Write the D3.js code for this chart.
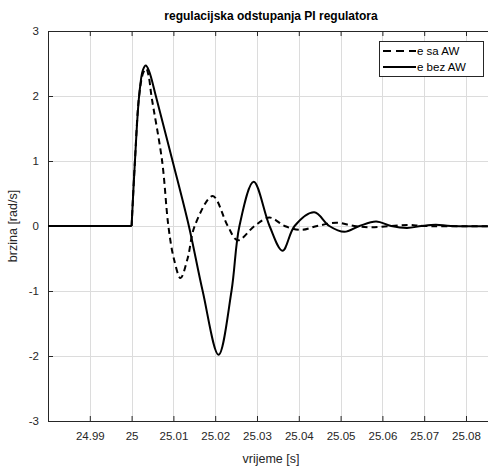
<!DOCTYPE html>
<html>
<head>
<meta charset="utf-8">
<script src="https://cdn.jsdelivr.net/npm/d3@7"></script>
<style>
  body { margin: 0; background: #fff; }
  svg { display: block; font-family: "Liberation Sans", Arial, sans-serif; }
</style>
</head>
<body>
<div id="chart"></div>
<script>
// DATA
const xTicks = [24.99, 25, 25.01, 25.02, 25.03, 25.04, 25.05, 25.06, 25.07, 25.08];
const yTicks = [-3, -2, -1, 0, 1, 2, 3];

// e bez AW (solid)
const tBez = [24.98, 25.0, 25.0008, 25.0018, 25.0027, 25.0034, 25.0042, 25.0058, 25.0098, 25.0137, 25.0170, 25.0208,
              25.0239, 25.0258, 25.0292, 25.0330, 25.0361, 25.0390, 25.0437, 25.0473, 25.0509,
              25.0545, 25.0585, 25.0621, 25.0659, 25.0693, 25.0728, 25.0764, 25.09];
const eBez = [0, 0, 1.0, 2.0, 2.4, 2.47, 2.38, 2.0, 1.0, 0, -1.0, -1.98,
              -1.0, 0, 0.68, 0, -0.38, 0, 0.21, 0, -0.09,
              0, 0.07, 0, -0.03, 0, 0.02, 0, 0];

// e sa AW (dashed)
const tSa = [24.98, 25.0, 25.0008, 25.0018, 25.0028, 25.0035, 25.0041, 25.00475, 25.0073, 25.0088, 25.0101, 25.0117,
             25.0134, 25.0151, 25.0194, 25.0230, 25.0254, 25.0294, 25.0330, 25.0366, 25.0406,
             25.0444, 25.0490, 25.0533, 25.0573, 25.0621, 25.0664, 25.0700, 25.09];
const eSa = [0, 0, 1.0, 2.0, 2.36, 2.42, 2.3, 2.0, 1.0, 0, -0.5, -0.8,
             -0.5, 0, 0.46, 0, -0.22, 0, 0.13, 0, -0.06,
             0, 0.05, 0, -0.02, 0, 0.015, 0, 0];

const series = [
  { name: "e sa AW", t: tSa, v: eSa, dash: "6,4" },
  { name: "e bez AW", t: tBez, v: eBez, dash: null }
];

// LAYOUT
const width = 488, height = 466;
const margin = { top: 31, left: 48, right: -6, bottom: 45 };
const plotW = width - margin.left - margin.right;
const plotH = height - margin.top - margin.bottom;
const textColor = "#262626";

const svg = d3.select("#chart").append("svg")
  .attr("width", width)
  .attr("height", height);

const x = d3.scaleLinear().domain([24.98, 25.0867]).range([margin.left, margin.left + plotW]);
const y = d3.scaleLinear().domain([-3, 3]).range([margin.top + plotH, margin.top]);

// GRID
const grid = svg.append("g").attr("stroke", "#dcdcdc").attr("stroke-width", 1);
xTicks.forEach(t => {
  grid.append("line")
    .attr("x1", Math.round(x(t)) + 0.5).attr("x2", Math.round(x(t)) + 0.5)
    .attr("y1", y(3)).attr("y2", y(-3));
});
yTicks.forEach(t => {
  grid.append("line")
    .attr("x1", x.range()[0]).attr("x2", x.range()[1])
    .attr("y1", Math.round(y(t)) + 0.5).attr("y2", Math.round(y(t)) + 0.5);
});

// AXES (matlab style: ticks inside, box)
const xAxisB = d3.axisBottom(x).tickValues(xTicks).tickSizeInner(-5).tickSizeOuter(0).tickPadding(11)
  .tickFormat(d => String(+d.toFixed(2)));
const xAxisT = d3.axisTop(x).tickValues(xTicks).tickSizeInner(-5).tickSizeOuter(0).tickFormat("");
const yAxisL = d3.axisLeft(y).tickValues(yTicks).tickSizeInner(-5).tickSizeOuter(0).tickPadding(9)
  .tickFormat(d => String(d));

function styleAxis(g) {
  g.selectAll("path").attr("stroke", textColor).attr("stroke-width", 1);
  g.selectAll("line").attr("stroke", textColor);
  g.selectAll("text").attr("fill", textColor).style("font-size", "11.5px");
}

svg.append("g").attr("transform", `translate(0,${margin.top + plotH})`).call(xAxisB).call(styleAxis);
svg.append("g").attr("transform", `translate(0,${margin.top})`).call(xAxisT).call(styleAxis);
svg.append("g").attr("transform", `translate(${margin.left},0)`).call(yAxisL).call(styleAxis);

// CURVES: flat part straight, oscillation smooth
const flat = d3.line();
const smooth = d3.line().curve(d3.curveCatmullRom.alpha(0.5));
series.forEach(s => {
  const pts = s.t.map((t, i) => [x(t), y(s.v[i])]);
  svg.append("path")
    .attr("fill", "none")
    .attr("stroke", "#000")
    .attr("stroke-width", 2)
    .attr("d", flat(pts.slice(0, 2)));
  svg.append("path")
    .attr("fill", "none")
    .attr("stroke", "#000")
    .attr("stroke-width", 2)
    .attr("stroke-dasharray", s.dash)
    .attr("d", smooth(pts.slice(1)));
});

// TITLE AND LABELS
svg.append("text")
  .attr("x", 271).attr("y", 20)
  .attr("text-anchor", "middle")
  .attr("font-weight", "bold")
  .style("font-size", "12px")
  .attr("fill", "#000")
  .text("regulacijska odstupanja PI regulatora");

svg.append("text")
  .attr("x", 271).attr("y", 463)
  .attr("text-anchor", "middle")
  .style("font-size", "12.5px")
  .attr("fill", textColor)
  .text("vrijeme [s]");

svg.append("text")
  .attr("transform", `translate(17,${y(0)}) rotate(-90)`)
  .attr("text-anchor", "middle")
  .style("font-size", "12.5px")
  .attr("fill", textColor)
  .text("brzina [rad/s]");

// LEGEND
const legend = svg.append("g").attr("transform", "translate(379,41)");
legend.append("rect")
  .attr("x", 0.5).attr("y", 0.5)
  .attr("width", 104).attr("height", 35)
  .attr("fill", "#fff")
  .attr("stroke", textColor);
series.forEach((s, i) => {
  const ly = 10 + i * 16;
  legend.append("line")
    .attr("x1", 4).attr("x2", 37)
    .attr("y1", ly).attr("y2", ly)
    .attr("stroke", "#000")
    .attr("stroke-width", 2)
    .attr("stroke-dasharray", s.dash ? "8,5" : null);
  legend.append("text")
    .attr("x", 38).attr("y", ly + 4)
    .style("font-size", "11.5px")
    .attr("fill", "#000")
    .text(s.name);
});
</script>
</body>
</html>
